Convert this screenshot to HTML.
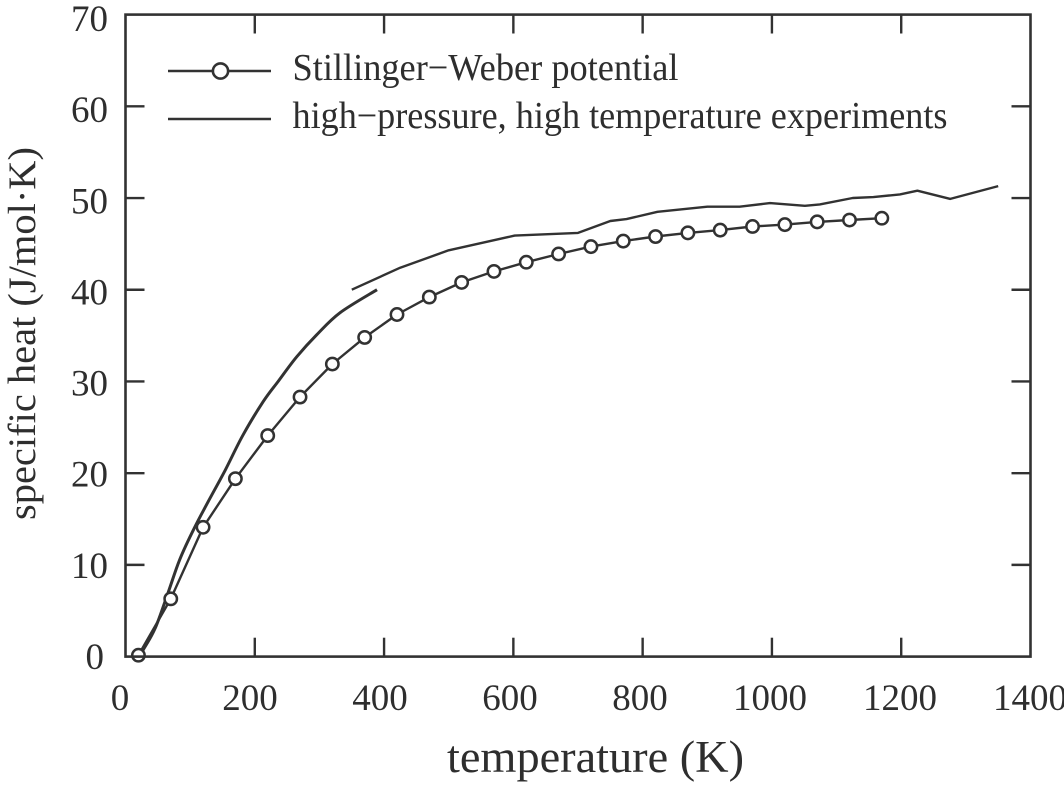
<!DOCTYPE html>
<html>
<head>
<meta charset="utf-8">
<title>Specific heat vs temperature</title>
<style>
html,body{margin:0;padding:0;background:#fff;}
svg{display:block;}
text{font-family:"Liberation Serif",serif;fill:#2e2e2e;}
</style>
</head>
<body>
<svg id="chart" xmlns="http://www.w3.org/2000/svg" width="1064" height="786" viewBox="0 0 1064 786">
  <defs>
    <filter id="soften" x="0" y="0" width="100%" height="100%" filterUnits="objectBoundingBox">
      <feGaussianBlur stdDeviation="0.35"></feGaussianBlur>
    </filter>
  </defs>
  <g filter="url(#soften)">
    <rect x="0" y="0" width="1064" height="786" fill="#fff"></rect>
    <g id="marks"></g>
    <rect x="125.5" y="14.6" width="905" height="642" fill="none" stroke="#333" stroke-width="2.6"></rect>
    <g id="ticks"></g>
    <g id="labels"></g>
    <text x="447" y="772" font-size="45" textLength="297" lengthAdjust="spacingAndGlyphs">temperature (K)</text>
    <text transform="translate(35,520) rotate(-90)" x="0" y="0" font-size="39" textLength="373" lengthAdjust="spacingAndGlyphs">specific heat (J/mol·K)</text>
    <g>
      <line x1="168" y1="71" x2="271" y2="71" stroke="#333" stroke-width="2.4"></line>
      <circle cx="220.5" cy="71" r="7.6" fill="#fff" stroke="#333" stroke-width="2.6"></circle>
      <text x="292.5" y="80" font-size="38" textLength="386" lengthAdjust="spacingAndGlyphs">Stillinger−Weber potential</text>
      <line x1="168" y1="119" x2="271" y2="119" stroke="#333" stroke-width="2.4"></line>
      <text x="292.5" y="128" font-size="38" textLength="655" lengthAdjust="spacingAndGlyphs">high−pressure, high temperature experiments</text>
    </g>
  </g>
</svg>
<script>
const xTickValues = [0, 200, 400, 600, 800, 1000, 1200, 1400];
const yTickValues = [0, 10, 20, 30, 40, 50, 60, 70];

const swTemperature = [20, 70, 120, 170, 220, 270, 320, 370, 420, 470, 520, 570, 620, 670, 720, 770, 820, 870, 920, 970, 1020, 1070, 1120, 1170];
const swSpecificHeat = [0.15, 6.3, 14.1, 19.4, 24.1, 28.3, 31.9, 34.8, 37.3, 39.2, 40.8, 42.0, 43.0, 43.9, 44.7, 45.3, 45.8, 46.2, 46.5, 46.9, 47.1, 47.4, 47.6, 47.8];

const expLowTemperature = [22, 27, 46, 66, 84, 107, 128, 154, 182, 213, 236, 265, 296, 332, 389];
const expLowSpecificHeat = [0.1, 0.7, 3.1, 7.0, 10.6, 14.1, 16.9, 20.3, 24.2, 27.8, 30.0, 32.7, 35.1, 37.5, 40.0];

const expHighTemperature = [350, 425, 500, 602, 700, 750, 775, 823, 900, 950, 997, 1051, 1074, 1125, 1157, 1198, 1225, 1276, 1350];
const expHighSpecificHeat = [40.0, 42.4, 44.3, 45.9, 46.2, 47.5, 47.7, 48.5, 49.05, 49.05, 49.45, 49.15, 49.3, 50.0, 50.1, 50.4, 50.8, 49.9, 51.3];

const SVG_NS = 'http://www.w3.org/2000/svg';
const xScale = t => 125.5 + t * (905 / 1400);
const yScale = v => 656.6 - v * (642 / 70);
const xLabelPos = t => 120 + t * 0.65;
const yLabelPos = v => 669 - v * (638 / 70);

const marks = document.getElementById('marks');
const ticks = document.getElementById('ticks');
const labels = document.getElementById('labels');

function pathFrom(xs, ys) {
  return xs.map((t, i) => (i ? 'L' : 'M') + xScale(t).toFixed(1) + ' ' + yScale(ys[i]).toFixed(1)).join(' ');
}

function smoothPathFrom(xs, ys) {
  const px = xs.map(xScale);
  const py = ys.map(yScale);
  let d = 'M' + px[0].toFixed(1) + ' ' + py[0].toFixed(1);
  for (let i = 0; i < px.length - 1; i++) {
    const a = Math.max(i - 1, 0);
    const b = Math.min(i + 2, px.length - 1);
    const c1x = px[i] + (px[i + 1] - px[a]) / 6;
    const c1y = py[i] + (py[i + 1] - py[a]) / 6;
    const c2x = px[i + 1] - (px[b] - px[i]) / 6;
    const c2y = py[i + 1] - (py[b] - py[i]) / 6;
    d += ' C' + [c1x, c1y, c2x, c2y, px[i + 1], py[i + 1]].map(n => n.toFixed(1)).join(' ');
  }
  return d;
}

function drawLine(d, width) {
  const p = document.createElementNS(SVG_NS, 'path');
  p.setAttribute('d', d);
  p.setAttribute('fill', 'none');
  p.setAttribute('stroke', '#333');
  p.setAttribute('stroke-width', width);
  p.setAttribute('stroke-linejoin', 'round');
  marks.appendChild(p);
  return p;
}

function tickLine(x1, y1, x2, y2) {
  const l = document.createElementNS(SVG_NS, 'line');
  l.setAttribute('x1', x1);
  l.setAttribute('y1', y1);
  l.setAttribute('x2', x2);
  l.setAttribute('y2', y2);
  l.setAttribute('stroke', '#333');
  l.setAttribute('stroke-width', '2.4');
  
  
  ticks.appendChild(l);
}

const lineLow = drawLine(smoothPathFrom(expLowTemperature, expLowSpecificHeat), 3);



const lineHigh = drawLine(pathFrom(expHighTemperature, expHighSpecificHeat), 2.4);



const lineSw = drawLine(pathFrom(swTemperature, swSpecificHeat), 2.4);



swTemperature.forEach((t, i) => {
  const c = document.createElementNS(SVG_NS, 'circle');
  c.setAttribute('cx', xScale(t));
  c.setAttribute('cy', yScale(swSpecificHeat[i]));
  c.setAttribute('r', 6.2);
  c.setAttribute('fill', '#fff');
  c.setAttribute('stroke', '#333');
  c.setAttribute('stroke-width', 2.5);
  
  
  marks.appendChild(c);
});

xTickValues.forEach(t => {
  if (t > 0 && t < 1400) {
    tickLine(xScale(t), 14.6, xScale(t), 33.5);
    tickLine(xScale(t), 656.6, xScale(t), 637.7);
  }
  const el = document.createElementNS(SVG_NS, 'text');
  el.setAttribute('x', xLabelPos(t));
  el.setAttribute('y', 710);
  el.setAttribute('font-size', 37);
  el.setAttribute('text-anchor', 'middle');
  
  
  el.textContent = t;
  labels.appendChild(el);
});

yTickValues.forEach(v => {
  if (v > 0 && v < 70) {
    tickLine(125.5, yScale(v), 144.5, yScale(v));
    tickLine(1030.5, yScale(v), 1011.5, yScale(v));
  }
  const el = document.createElementNS(SVG_NS, 'text');
  el.setAttribute('x', v === 0 ? 104 : 108);
  el.setAttribute('y', yLabelPos(v));
  el.setAttribute('font-size', 37);
  el.setAttribute('text-anchor', 'end');
  
  
  el.textContent = v;
  labels.appendChild(el);
});
</script>
</body>
</html>
